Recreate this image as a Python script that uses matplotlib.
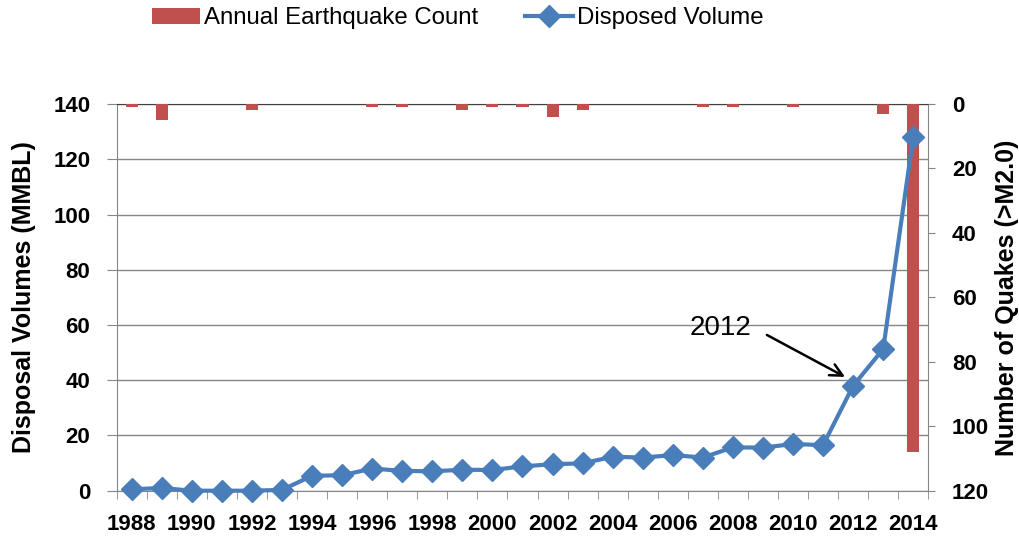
import matplotlib.pyplot as plt
import numpy as np

plt.rcParams['font.family'] = ['Liberation Sans', 'DejaVu Sans']

years = list(range(1988, 2015))
quakes = [1, 5, 0, 0, 2, 0, 0, 0, 1, 1, 0, 2, 1, 1, 4, 2, 0, 0, 0, 1, 1, 0, 1, 0, 0, 3, 108]
volume = [0.5, 1, 0, 0, 0, 0.3, 5.4, 5.6, 8, 7.2, 7, 7.6, 7.5, 8.8, 9.6, 9.9,
          12.3, 12, 12.9, 12, 15.7, 15.6, 16.9, 16.5, 38, 51.3, 128.2]
year_labels = [str(y) if y % 2 == 0 else '' for y in years]

red = '#C0504D'
blue = '#4A7EBB'
gray = '#868686'

x = np.arange(len(years))

fig = plt.figure(figsize=(10.19, 5.39), dpi=100)
ax = fig.add_axes([0.1145, 0.0896, 0.7965, 0.7174])

# left axis: grid and volume scale
ax.set_xlim(-0.5, len(years) - 0.5)
ax.set_ylim(0, 140)
ax.set_yticks(range(0, 141, 20))
ax.grid(axis='y', color=gray, lw=1)
ax.set_axisbelow(True)
ax.set_xticks(x)
ax.set_xticklabels(year_labels, fontsize=16, fontweight='bold')
ax.set_xticks(np.arange(-0.5, len(years)), minor=True)
ax.tick_params(axis='x', which='major', length=0, pad=17)
ax.tick_params(axis='x', which='minor', length=6, color=gray, direction='out')
ax.tick_params(axis='y', length=7, color=gray, labelsize=16, pad=12)
for lab in ax.get_yticklabels():
    lab.set_fontweight('bold')
ax.set_ylabel('Disposal Volumes (MMBL)', fontsize=18, fontweight='bold', labelpad=12)
for s in ['left', 'bottom', 'right']:
    ax.spines[s].set_color(gray)
ax.spines['top'].set_color('#404040')

# right axis: quake counts hanging from the top
ax2 = ax.twinx()
ax2.bar(x, quakes, width=0.4, color=red, label='Annual Earthquake Count')
ax2.set_ylim(120, 0)
ax2.set_yticks(range(0, 121, 20))
ax2.tick_params(axis='y', length=5, color=gray, labelsize=16, pad=12)
for lab in ax2.get_yticklabels():
    lab.set_fontweight('bold')
ax2.set_ylabel('Number of Quakes (>M2.0)', fontsize=18, fontweight='bold',
               rotation=90, labelpad=4)
for s in ax2.spines.values():
    s.set_visible(False)

# volume line on top of the bars
ax3 = ax.twinx()
ax3.plot(x, volume, color=blue, lw=3, marker='D', markersize=11.5,
         label='Disposed Volume', clip_on=False)
ax3.set_ylim(0, 140)
ax3.set_yticks([])
for s in ax3.spines.values():
    s.set_visible(False)

ax3.text(19.6, 58.9, '2012', fontsize=20, ha='center', va='center')
ax3.annotate('', xy=(23.73, 41.2), xytext=(21.13, 56.4),
             arrowprops=dict(arrowstyle='->', color='black', lw=1.8,
                             shrinkA=0, shrinkB=0, mutation_scale=22))

h1, l1 = ax2.get_legend_handles_labels()
h2, l2 = ax3.get_legend_handles_labels()
fig.legend(h1 + h2, l1 + l2, loc='center', bbox_to_anchor=(0.449, 0.966),
           ncol=2, frameon=False, fontsize=17.3, columnspacing=1.95,
           handlelength=2.0, handletextpad=0.17)

fig.savefig('out.png', dpi=100)
